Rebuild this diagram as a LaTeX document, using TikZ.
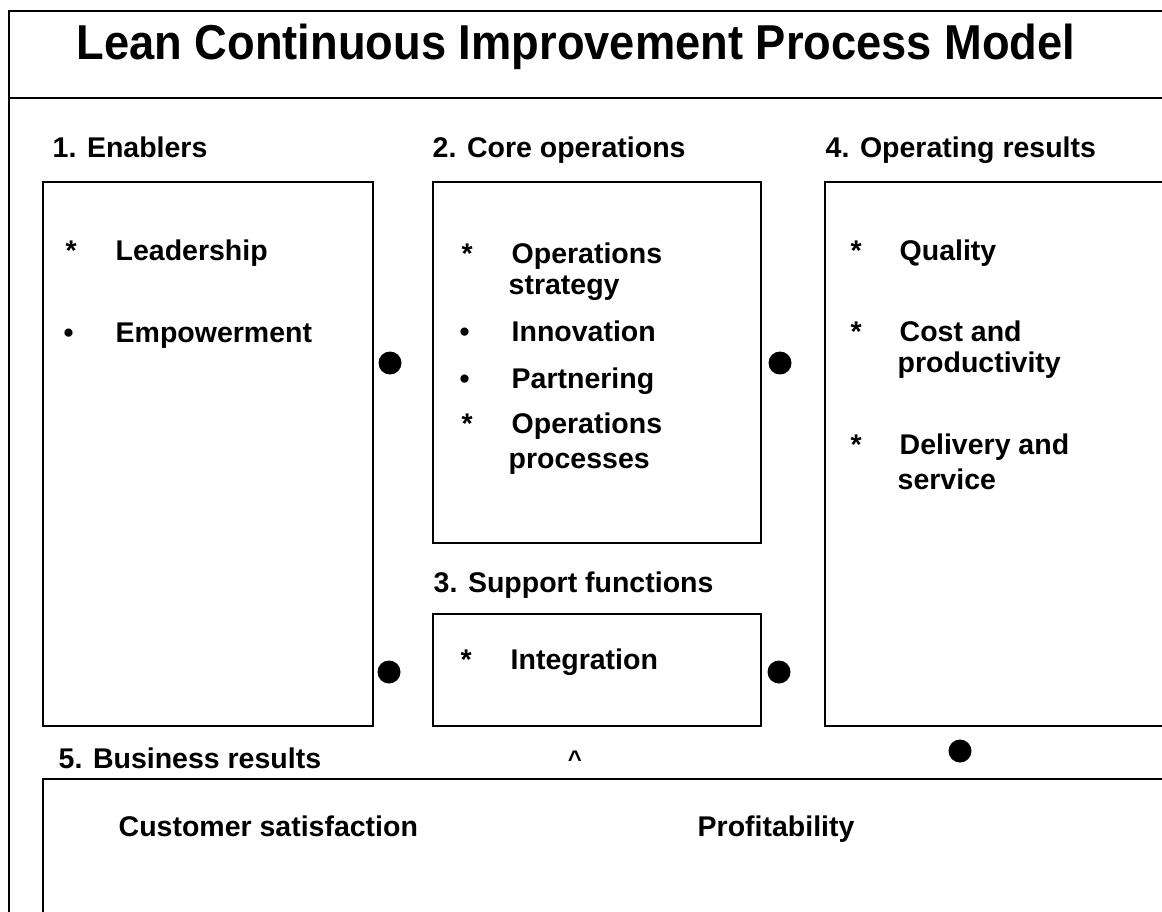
\documentclass[tikz,border=0pt]{standalone}
\usepackage{fontspec}
\setmainfont{Liberation Sans}
\newfontfamily\titlefont[FakeStretch=0.924]{Liberation Sans}
\begin{document}
\begin{tikzpicture}[x=1pt,y=-1pt,line width=1.4pt,
    txt/.style={anchor=base west,inner sep=0pt,font=\bfseries\fontsize{28.5}{32}\selectfont},
    joint/.style={fill=black}]
  \clip (0,0) rectangle (1162,912);
  \fill[white] (0,0) rectangle (1162,912);
  % frame and title bar
  \draw (1170,11) -- (9,11) -- (9,920);
  \draw (9,98) -- (1170,98);
  \node[anchor=base,inner sep=0pt,font=\titlefont\bfseries\fontsize{49}{54}\selectfont] (title) at (576,60)
    {Lean Continuous Improvement Process Model};
  % boxes
  \draw (43,182) rectangle (373,726);
  \draw (433,182) rectangle (761,543);
  \draw (433,614) rectangle (761,726);
  \draw (1170,182) -- (825,182) -- (825,726) -- (1170,726);
  \draw (1170,779) -- (43,779) -- (43,920);
  % headings
  \node[txt] (enab) at (52,158) {1. Enablers};
  \node[txt] (core) at (432,158) {2. Core operations};
  \node[txt] (oper) at (825,158) {4. Operating results};
  \node[txt] (supp) at (433,592) {3. Support functions};
  \node[txt] (busi) at (58,768) {5. Business results};
  % 1. enablers
  \node[txt] (s1) at (65,261) {*};
  \node[txt] (lead) at (115,261) {Leadership};
  \node[txt] (b1) at (63,342) {•};
  \node[txt] (empow) at (115,342) {Empowerment};
  % 2. core operations
  \node[txt] (s2) at (461,263) {*};
  \node[txt] (opstrat) at (511,263) {Operations};
  \node[txt] (opstrat2) at (508,294) {strategy};
  \node[txt] (b2) at (459,341) {•};
  \node[txt] (innov) at (511,341) {Innovation};
  \node[txt] (b3) at (459,388) {•};
  \node[txt] (partn) at (511,388) {Partnering};
  \node[txt] (s3) at (461,433) {*};
  \node[txt] (opproc) at (511,433) {Operations};
  \node[txt] (opproc2) at (508,468) {processes};
  % 3. support functions
  \node[txt] (s4) at (460,669) {*};
  \node[txt] (integ) at (510,669) {Integration};
  % 4. operating results
  \node[txt] (s5) at (850,261) {*};
  \node[txt] (qual) at (899,261) {Quality};
  \node[txt] (s6) at (850,341) {*};
  \node[txt] (cost) at (899,341) {Cost and};
  \node[txt] (cost2) at (897,372) {productivity};
  \node[txt] (s7) at (850,454) {*};
  \node[txt] (deliv) at (899,454) {Delivery and};
  \node[txt] (deliv2) at (897,489) {service};
  % 5. business results
  \node[txt] (cust) at (118,836) {Customer satisfaction};
  \node[txt] (profit) at (697,836) {Profitability};
  \node[anchor=base,inner sep=0pt,font=\bfseries\fontsize{24}{26}\selectfont] (caret) at (575,767) {\textasciicircum};
  % joints between the boxes
  \foreach \x/\y in {390/363,780/363,389/672,779/672,960/751}
    \fill[joint] (\x,\y) circle[radius=11.5pt];
\end{tikzpicture}
\end{document}
